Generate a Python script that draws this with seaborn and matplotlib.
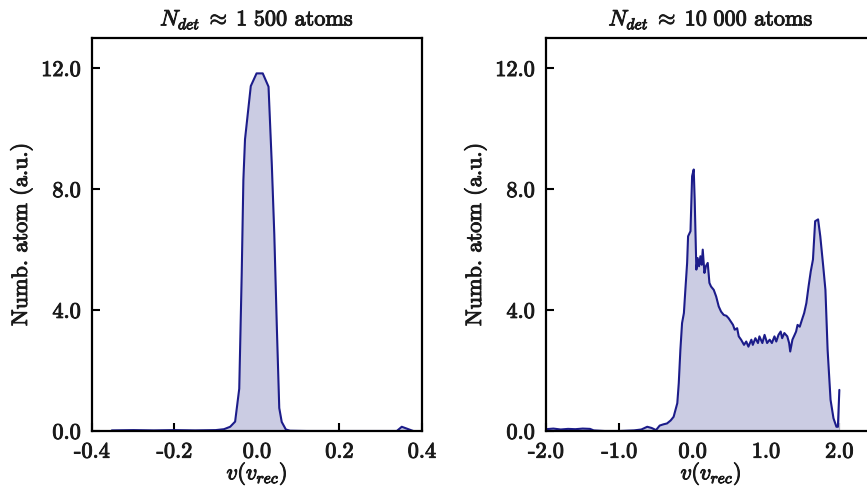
import numpy as np
import pandas as pd
import seaborn as sns
import matplotlib.pyplot as plt
import matplotlib.patheffects as pe
from matplotlib.ticker import FixedLocator, StrMethodFormatter

# Left panel: N_det ~ 1 500 atoms
v_small = [-0.352, -0.30, -0.25, -0.20, -0.15, -0.10, -0.080, -0.065, -0.053, -0.043,
           -0.037, -0.033, -0.029, -0.015, -0.001, 0.014, 0.028, 0.036, 0.042, 0.048,
           0.054, 0.060, 0.070, 0.080, 0.12, 0.20, 0.30, 0.339, 0.351, 0.363, 0.379]
n_small = [0.02, 0.03, 0.02, 0.03, 0.02, 0.03, 0.06, 0.14, 0.31, 1.40,
           5.20, 8.30, 9.65, 11.41, 11.83, 11.83, 11.39, 8.80, 6.50, 3.50,
           0.76, 0.30, 0.05, 0.01, 0.0, 0.0, 0.0, 0.0, 0.14, 0.08, 0.0]

# Right panel: N_det ~ 10 000 atoms
v_large = [-2.00, -1.90, -1.80, -1.70, -1.60, -1.50, -1.40, -1.35, -1.20, -1.00,
           -0.80, -0.70, -0.62, -0.56, -0.50, -0.45, -0.40, -0.35, -0.30, -0.26,
           -0.21, -0.19, -0.168, -0.145, -0.12, -0.10, -0.076, -0.063, -0.03, -0.008,
           0.014, 0.027, 0.037, 0.050, 0.068, 0.087, 0.105, 0.123, 0.137, 0.160,
           0.180, 0.205, 0.228, 0.250, 0.287, 0.320, 0.355, 0.387, 0.423, 0.460,
           0.490, 0.520, 0.550, 0.573, 0.606, 0.628, 0.660, 0.700, 0.730, 0.760,
           0.800, 0.820, 0.855, 0.890, 0.910, 0.950, 0.980, 1.015, 1.050, 1.080,
           1.115, 1.140, 1.170, 1.200, 1.220, 1.250, 1.290, 1.315, 1.330, 1.360,
           1.390, 1.410, 1.430, 1.460, 1.490, 1.520, 1.550, 1.580, 1.610, 1.640,
           1.670, 1.710, 1.740, 1.780, 1.810, 1.840, 1.880, 1.920, 1.960, 1.980,
           2.000]
n_large = [0.06, 0.08, 0.05, 0.07, 0.06, 0.08, 0.07, 0.02, 0.0, 0.0,
           0.02, 0.05, 0.14, 0.10, 0.03, 0.18, 0.22, 0.25, 0.35, 0.47,
           0.92, 1.58, 2.68, 3.57, 3.90, 4.67, 5.56, 6.44, 6.61, 8.43,
           8.65, 7.66, 6.66, 5.34, 5.72, 5.45, 5.78, 5.50, 6.00, 5.23,
           5.45, 5.56, 4.90, 4.78, 4.67, 4.45, 4.12, 3.95, 3.84, 3.81,
           3.73, 3.62, 3.51, 3.35, 3.40, 3.13, 3.02, 2.85, 2.96, 2.79,
           3.02, 2.85, 3.07, 2.91, 3.13, 2.91, 3.18, 2.91, 3.02, 2.91,
           3.13, 2.96, 3.18, 3.29, 3.07, 3.24, 3.13, 2.91, 2.63, 3.02,
           3.18, 3.29, 3.51, 3.45, 3.68, 3.90, 4.23, 4.78, 5.28, 5.67,
           6.94, 7.00, 6.44, 5.45, 4.67, 2.68, 1.03, 0.42, 0.14, 0.14,
           1.36]

titles = [r"$N_{det}\;\approx\;1\ 500$ atoms", r"$N_{det}\;\approx\;10\ 000$ atoms"]
y_ticks = [0.0, 4.0, 8.0, 12.0]
x_ticks_small = [-0.4, -0.2, 0.0, 0.2, 0.4]
x_ticks_large = [-2.0, -1.0, 0.0, 1.0, 2.0]

line_color = "#1c1c8a"
fill_color = "#cbcce3"
text_color = "#1a1a1a"
bold = [pe.withStroke(linewidth=0.7, foreground=text_color)]

sns.set_style("ticks")
plt.rcParams["font.family"] = ["cmr10", "DejaVu Serif"]
plt.rcParams["mathtext.fontset"] = "cm"
plt.rcParams["axes.unicode_minus"] = False
plt.rcParams["axes.formatter.use_mathtext"] = True

fig = plt.figure(figsize=(8.67, 4.88), dpi=100)
ax1 = fig.add_axes([0.1061, 0.1168, 0.3806, 0.8053])
ax2 = fig.add_axes([0.6298, 0.1168, 0.3806, 0.8053])

panels = [
    (ax1, pd.DataFrame({"v": v_small, "n": n_small}), (-0.4, 0.4), x_ticks_small),
    (ax2, pd.DataFrame({"v": v_large, "n": n_large}), (-2.0, 2.5), x_ticks_large),
]

for (ax, df, xlim, xticks), title in zip(panels, titles):
    ax.fill_between(df["v"], df["n"], 0, color=fill_color, linewidth=0)
    sns.lineplot(data=df, x="v", y="n", ax=ax, color=line_color, linewidth=1.5,
                 sort=False, estimator=None)
    ax.set_xlim(*xlim)
    ax.set_ylim(0, 13)
    ax.xaxis.set_major_locator(FixedLocator(xticks))
    ax.yaxis.set_major_locator(FixedLocator(y_ticks))
    ax.xaxis.set_major_formatter(StrMethodFormatter("{x:.1f}"))
    ax.yaxis.set_major_formatter(StrMethodFormatter("{x:.1f}"))
    ax.tick_params(direction="in", length=6, width=1.5, labelsize=16, pad=8,
                   top=False, right=False, colors="black", labelcolor=text_color)
    for lab in ax.get_xticklabels() + ax.get_yticklabels():
        lab.set_path_effects(bold)
    for s in ax.spines.values():
        s.set_linewidth(1.6)
        s.set_color("black")
    ax.set_title(title, fontsize=16, pad=9, color=text_color, path_effects=bold)
    ax.set_xlabel(r"$v(v_{rec})$", fontsize=16, labelpad=-1, color=text_color,
                  path_effects=bold)
    ax.set_ylabel("Numb. atom (a.u.)", fontsize=16, labelpad=6, color=text_color,
                  path_effects=bold)

fig.savefig("out.png", dpi=100)
